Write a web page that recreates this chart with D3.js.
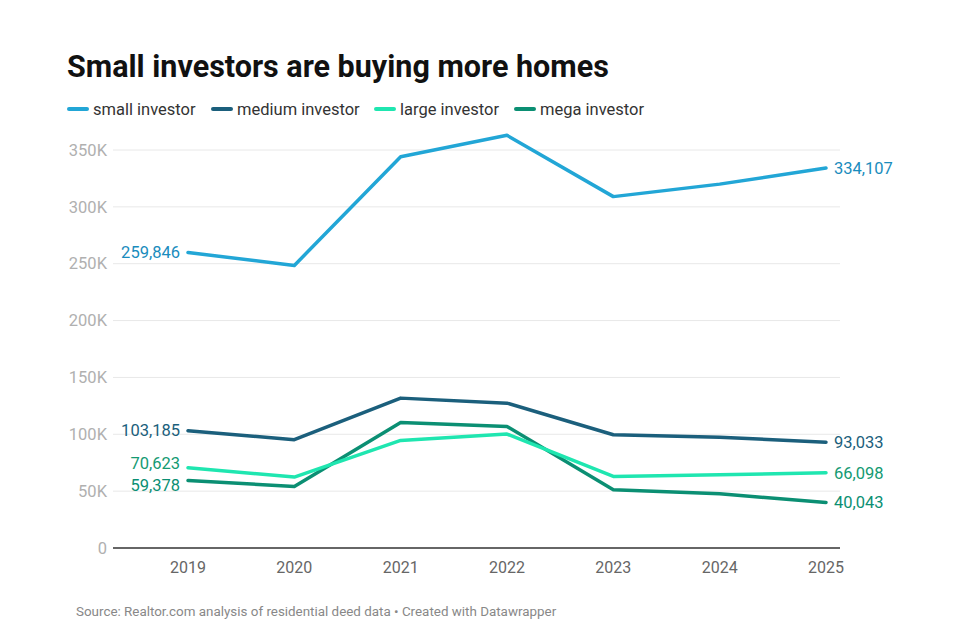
<!DOCTYPE html>
<html>
<head>
<meta charset="utf-8">
<script src="https://cdn.jsdelivr.net/npm/d3@7"></script>
<style>
  body { margin: 0; background: #fff; }
  svg text { font-family: Roboto, "Noto Sans", sans-serif; }
</style>
</head>
<body>
<svg id="chart" width="960" height="640"></svg>
<script>
const years = [2019, 2020, 2021, 2022, 2023, 2024, 2025];
const seriesNames = ["small investor", "medium investor", "large investor", "mega investor"];
const smallInvestor = [259846, 248500, 344100, 362900, 309000, 320000, 334107];
const mediumInvestor = [103185, 95200, 131800, 127400, 99600, 97500, 93033];
const largeInvestor = [70623, 62400, 94600, 100200, 62900, 64400, 66098];
const megaInvestor = [59378, 54100, 110400, 106900, 51200, 47700, 40043];
const yTicks = [0, 50000, 100000, 150000, 200000, 250000, 300000, 350000];
const lineColors = ["#22a6d6", "#1b5f7c", "#1fe6b0", "#0b8f73"];
const labelColors = ["#1a8cbd", "#1b5f7c", "#139a72", "#0b8f73"];

const series = [smallInvestor, mediumInvestor, largeInvestor, megaInvestor];

const svg = d3.select("#chart");
const margin = { left: 113, right: 120, top: 150, bottom: 92 };

const x = d3.scalePoint()
  .domain(years)
  .range([188, 826]);
const y = d3.scaleLinear()
  .domain([0, 350000])
  .range([548, 150]);

// title
svg.append("text")
  .attr("x", 67)
  .attr("y", 77)
  .attr("font-size", 30.5)
  .attr("font-weight", 700)
  .attr("fill", "#111")
  .text("Small investors are buying more homes");

// legend
const legendX = [68, 212, 375, 515];
const legend = svg.append("g");
seriesNames.forEach((name, i) => {
  const g = legend.append("g").attr("transform", "translate(" + legendX[i] + ",109)");
  g.append("line")
    .attr("x1", 1).attr("x2", 19)
    .attr("stroke", lineColors[i])
    .attr("stroke-width", 4)
    .attr("stroke-linecap", "round");
  g.append("text")
    .attr("x", 25)
    .attr("dy", "0.35em")
    .attr("font-size", 16.5)
    .attr("fill", "#333")
    .text(name);
});

// grid + y labels
const yAxis = svg.append("g");
yAxis.selectAll("line.grid")
  .data(yTicks.filter(d => d > 0))
  .join("line")
  .attr("class", "grid")
  .attr("x1", margin.left)
  .attr("x2", 840)
  .attr("y1", d => y(d))
  .attr("y2", d => y(d))
  .attr("stroke", "#e8e8e8")
  .attr("stroke-width", 1);
yAxis.selectAll("text")
  .data(yTicks)
  .join("text")
  .attr("x", 107)
  .attr("y", d => y(d))
  .attr("dy", "0.35em")
  .attr("text-anchor", "end")
  .attr("font-size", 16.5)
  .attr("fill", "#b0b0b0")
  .text(d => d === 0 ? "0" : d3.format("d")(d / 1000) + "K");

// baseline
svg.append("line")
  .attr("x1", margin.left)
  .attr("x2", 840)
  .attr("y1", y(0))
  .attr("y2", y(0))
  .attr("stroke", "#333")
  .attr("stroke-width", 1.5);

// x labels
svg.append("g")
  .selectAll("text")
  .data(years)
  .join("text")
  .attr("x", d => x(d))
  .attr("y", 573)
  .attr("text-anchor", "middle")
  .attr("font-size", 16)
  .attr("fill", "#666")
  .text(d => d);

// lines
const line = d3.line()
  .x((d, i) => x(years[i]))
  .y(d => y(d));

[3, 2, 1, 0].forEach(i => {
  svg.append("path")
    .datum(series[i])
    .attr("fill", "none")
    .attr("stroke", lineColors[i])
    .attr("stroke-width", 3.5)
    .attr("stroke-linejoin", "round")
    .attr("stroke-linecap", "round")
    .attr("d", line);
});

// end labels, pushed apart when too close
function spread(vals) {
  const items = vals.map((v, i) => ({ i, v, pos: y(v) })).sort((a, b) => a.pos - b.pos);
  const gap = 22;
  for (let k = 1; k < items.length; k++) {
    const d = items[k].pos - items[k - 1].pos;
    if (d < gap) {
      const shift = (gap - d) / 2;
      items[k - 1].pos -= shift;
      items[k].pos += shift;
    }
  }
  return items;
}

const fmt = d3.format(",");
spread(series.map(s => s[0])).forEach(d => {
  svg.append("text")
    .attr("x", x(years[0]) - 8)
    .attr("y", d.pos)
    .attr("dy", "0.35em")
    .attr("text-anchor", "end")
    .attr("font-size", 16.5)
    .attr("fill", labelColors[d.i])
    .text(fmt(d.v));
});
spread(series.map(s => s[s.length - 1])).forEach(d => {
  svg.append("text")
    .attr("x", x(years[years.length - 1]) + 8)
    .attr("y", d.pos)
    .attr("dy", "0.35em")
    .attr("text-anchor", "start")
    .attr("font-size", 16.5)
    .attr("fill", labelColors[d.i])
    .text(fmt(d.v));
});

// source
svg.append("text")
  .attr("x", 76)
  .attr("y", 616)
  .attr("font-size", 13.4)
  .attr("fill", "#888")
  .text("Source: Realtor.com analysis of residential deed data \u2022 Created with Datawrapper");
</script>
</body>
</html>
